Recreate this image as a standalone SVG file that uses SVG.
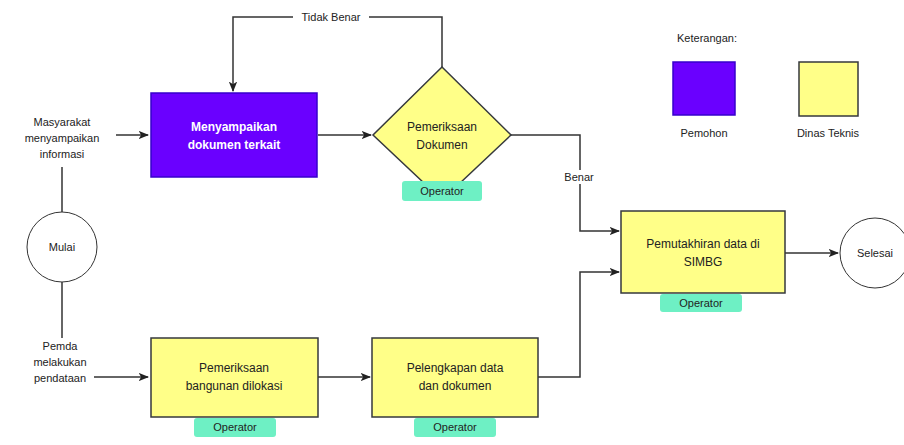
<svg xmlns="http://www.w3.org/2000/svg" width="904" height="445" viewBox="0 0 904 445">
<defs>
<style>
text{font-family:"Liberation Sans",Arial,sans-serif;font-size:11px;fill:#222;text-anchor:middle;dominant-baseline:central}
.b{font-size:12px}
.y{fill:#ffff88;stroke:#36393d;stroke-width:1.5}
.p{fill:#6a00ff;stroke:#3700cc;stroke-width:1.5}
.c{fill:#fff;stroke:#333;stroke-width:1}
.e{fill:none;stroke:#333;stroke-width:1.5}
.tag{fill:#6ef0c4}
.w{fill:#fff}
</style>
<marker id="a" viewBox="0 0 10 10" refX="9" refY="5" markerWidth="7" markerHeight="7" orient="auto"><path d="M0,1 L10,5 L0,9 L2.5,5 Z" fill="#222"/></marker>
</defs>
<rect width="904" height="445" fill="#fff"/>
<g id="connectors">
<path class="e" d="M442,67 V17 H233 V91" marker-end="url(#a)"/>
<rect class="w" x="293" y="10" width="76" height="14"/>
<text x="331" y="17">Tidak Benar</text>
<path class="e" d="M318,135 H371" marker-end="url(#a)"/>
<path class="e" d="M511,135 H580 V231 H619" marker-end="url(#a)"/>
<rect class="w" x="560" y="170" width="38" height="14"/>
<text x="579" y="177">Benar</text>
<path class="e" d="M538,377 H580 V272 H619" marker-end="url(#a)"/>
<path class="e" d="M785,253 H838" marker-end="url(#a)"/>
<path class="e" d="M116,135 H148" marker-end="url(#a)"/>
<path class="e" d="M62,167 V212"/>
<path class="e" d="M62,282 V338"/>
<path class="e" d="M94,377 H148" marker-end="url(#a)"/>
<path class="e" d="M318,377 H370" marker-end="url(#a)"/>
</g>
<g id="masyarakat">
<text x="62" y="122">Masyarakat</text>
<text x="62" y="138">menyampaikan</text>
<text x="62" y="154">informasi</text>
</g>
<g id="pemda">
<text x="60" y="346">Pemda</text>
<text x="60" y="362">melakukan</text>
<text x="60" y="378">pendataan</text>
</g>
<g id="mulai">
<circle class="c" cx="62" cy="247" r="35"/>
<text x="62" y="247">Mulai</text>
</g>
<g id="menyampaikan">
<rect class="p" x="151" y="93" width="166" height="84"/>
<text class="b" x="234" y="127" style="fill:#fff;font-weight:bold">Menyampaikan</text>
<text class="b" x="234" y="145" style="fill:#fff;font-weight:bold">dokumen terkait</text>
</g>
<g id="pemeriksaan-dokumen">
<polygon class="y" points="442,67 511,135 442,200 373,135"/>
<text class="b" x="442" y="127">Pemeriksaan</text>
<text class="b" x="442" y="145">Dokumen</text>
<rect class="tag" x="402" y="181" width="80" height="20" rx="3"/>
<text x="442" y="191">Operator</text>
</g>
<g id="pemutakhiran">
<rect class="y" x="621" y="211" width="164" height="82"/>
<text class="b" x="703" y="244">Pemutakhiran data di</text>
<text class="b" x="703" y="262">SIMBG</text>
<rect class="tag" x="660" y="294" width="82" height="18" rx="3"/>
<text x="701" y="303">Operator</text>
</g>
<g id="selesai">
<circle class="c" cx="875" cy="253" r="35"/>
<text x="875" y="253">Selesai</text>
</g>
<g id="pemeriksaan-bangunan">
<rect class="y" x="151" y="338" width="167" height="79"/>
<text class="b" x="234" y="368">Pemeriksaan</text>
<text class="b" x="234" y="386">bangunan dilokasi</text>
<rect class="tag" x="194" y="418" width="82" height="19" rx="3"/>
<text x="235" y="427">Operator</text>
</g>
<g id="pelengkapan">
<rect class="y" x="372" y="338" width="166" height="79"/>
<text class="b" x="455" y="368">Pelengkapan data</text>
<text class="b" x="455" y="386">dan dokumen</text>
<rect class="tag" x="414" y="418" width="82" height="19" rx="3"/>
<text x="455" y="427">Operator</text>
</g>
<g id="legend">
<text x="707" y="38">Keterangan:</text>
<rect class="p" x="673" y="62" width="62" height="53"/>
<text x="704" y="133">Pemohon</text>
<rect class="y" x="799" y="62" width="59" height="54"/>
<text x="828" y="133">Dinas Teknis</text>
</g>
</svg>
